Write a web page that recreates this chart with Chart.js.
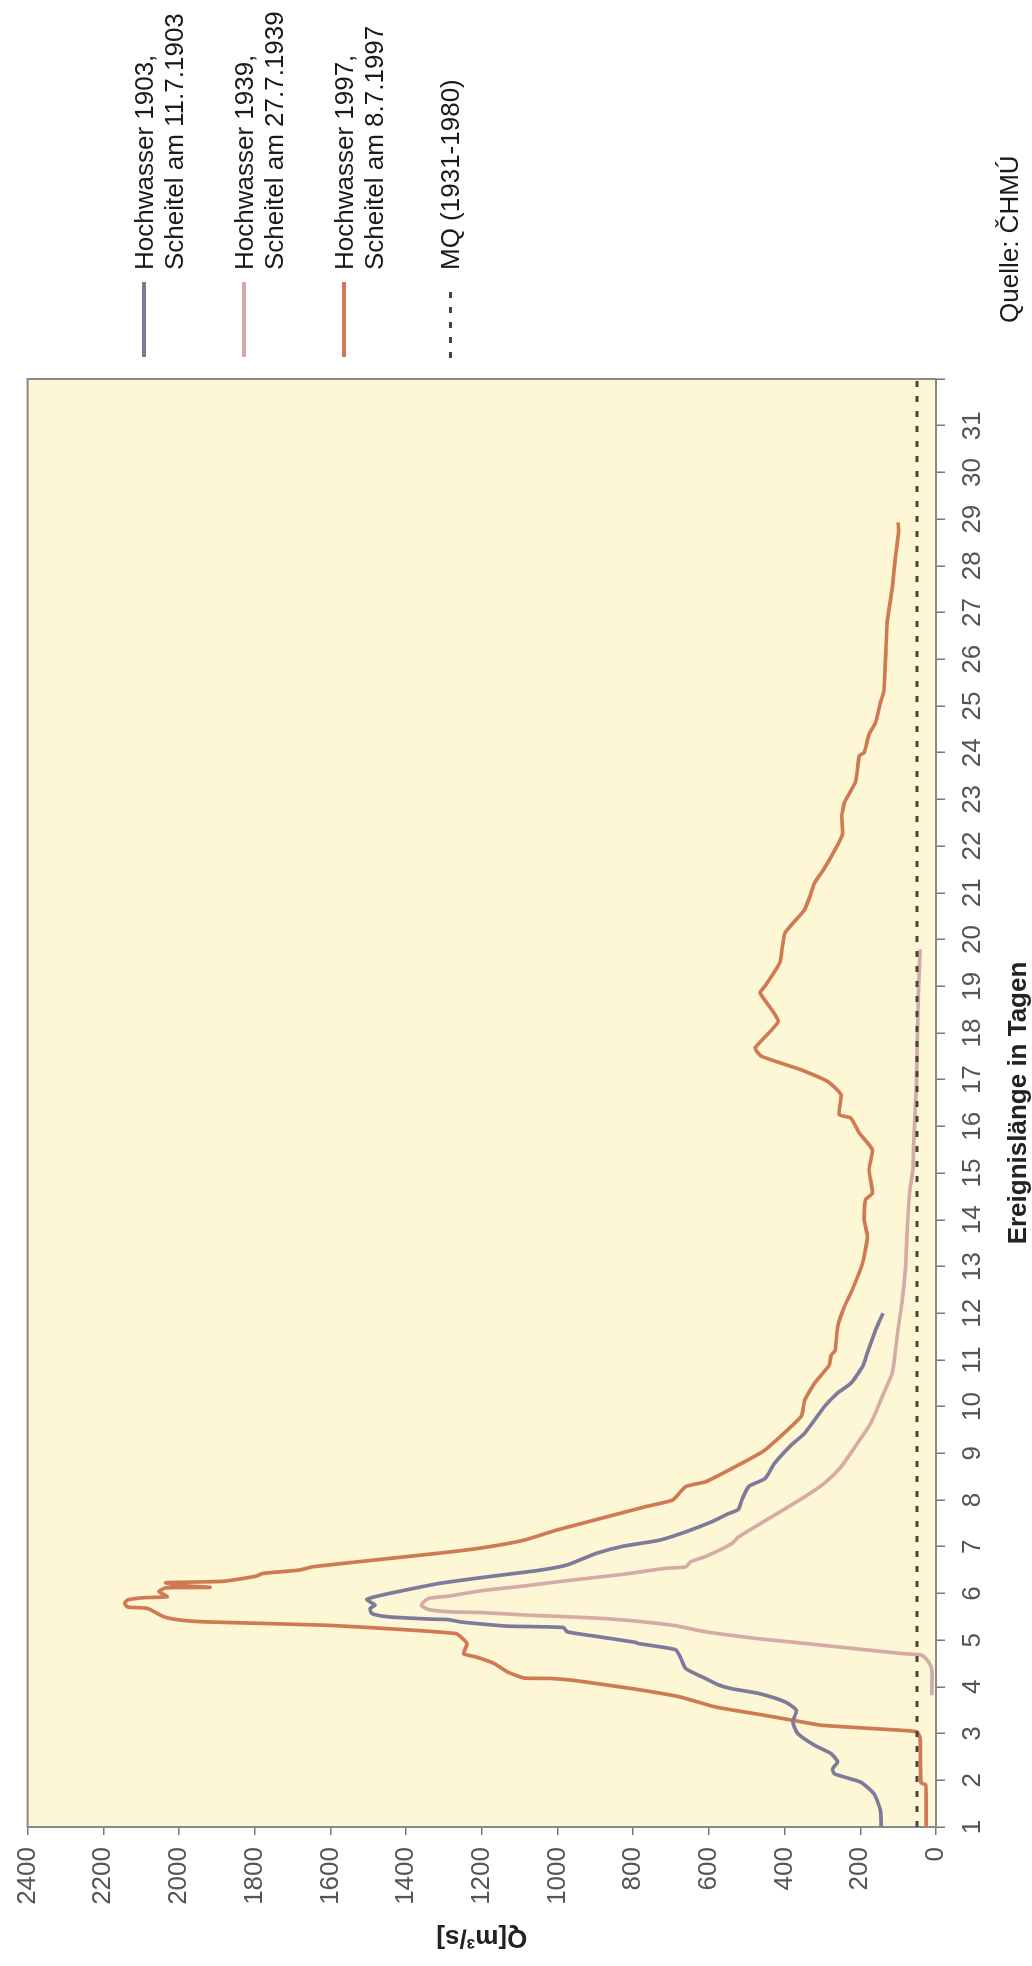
<!DOCTYPE html>
<html>
<head>
<meta charset="utf-8">
<script src="https://cdn.jsdelivr.net/npm/chart.js@4.4.1/dist/chart.umd.min.js"></script>
<style>
  html, body { margin: 0; padding: 0; background: #fff; }
  body { width: 1032px; height: 1966px; overflow: hidden; position: relative; font-family: "Liberation Sans", Arial, sans-serif; }
  #wrap { position: absolute; left: 0; top: 0; width: 1966px; height: 1032px;
          transform-origin: 0 0; transform: translateY(1966px) rotate(-90deg); }
  #wrap canvas { position: absolute; left: 0; top: 0; }
  .lg { position: absolute; font-size: 26px; line-height: 30px; color: #1a1a1a; white-space: pre; }
  .mk { position: absolute; height: 3.5px; }
</style>
</head>
<body>
<div id="wrap">
  <canvas id="Graph" width="1966" height="1032"></canvas>
  <div class="mk" style="left:1609px;top:142px;width:75px;background:#7d7b9c"></div>
  <div class="lg" style="left:1696px;top:129px">Hochwasser 1903,
Scheitel am 11.7.1903</div>
  <div class="mk" style="left:1609px;top:242px;width:75px;background:#d5aca5"></div>
  <div class="lg" style="left:1696px;top:229px">Hochwasser 1939,
Scheitel am 27.7.1939</div>
  <div class="mk" style="left:1609px;top:342px;width:75px;background:#cf7a54"></div>
  <div class="lg" style="left:1696px;top:329px">Hochwasser 1997,
Scheitel am 8.7.1997</div>
  <div class="mk" style="left:1608px;top:449px;width:70px;height:3px;background:repeating-linear-gradient(to right,#444 0 6px,transparent 6px 15px)"></div>
  <div class="lg" style="left:1696px;top:435px">MQ (1931-1980)</div>
  <div class="lg" style="left:1643px;top:994px">Quelle: ČHMÚ</div>
</div>
<script>
// Tage / Abfluss Q in m3/s
days1903 = [1.0, 1.36, 1.71, 1.96, 2.14, 2.25, 2.39, 2.57, 2.75, 3.0, 3.25, 3.5, 3.68, 3.86, 3.96, 4.04, 4.18, 4.39, 4.61, 4.79, 4.86, 4.93, 4.95, 5.07, 5.18, 5.27, 5.3, 5.36, 5.39, 5.44, 5.45, 5.46, 5.5, 5.57, 5.68, 5.75, 5.8, 5.87, 5.93, 6.04, 6.21, 6.33, 6.41, 6.5, 6.61, 6.86, 7.01, 7.14, 7.32, 7.54, 7.71, 7.8, 8.0, 8.29, 8.46, 8.79, 9.18, 9.43, 10.0, 10.29, 10.5, 10.86, 11.21, 11.64, 12.0];
q1903 = [145, 147, 164, 199, 269, 273, 260, 277, 321, 365, 378, 369, 399, 469, 539, 574, 609, 661, 674, 687, 731, 788, 792, 888, 975, 984, 1132, 1219, 1255, 1290, 1330, 1360, 1447, 1491, 1495, 1482, 1491, 1504, 1482, 1421, 1316, 1210, 1132, 1045, 975, 897, 827, 731, 661, 591, 548, 522, 513, 495, 452, 426, 382, 347, 295, 260, 225, 194, 179, 160, 140];

days1939 = [3.82, 4.36, 4.54, 4.68, 4.71, 4.82, 4.96, 5.04, 5.18, 5.32, 5.46, 5.54, 5.59, 5.61, 5.66, 5.75, 5.89, 5.94, 6.06, 6.16, 6.29, 6.41, 6.54, 6.57, 6.68, 6.79, 7.07, 7.21, 7.64, 8.07, 8.36, 8.71, 9.21, 9.64, 10.29, 10.71, 11.21, 11.5, 12.21, 12.93, 13.64, 14.36, 14.71, 15.07, 15.79, 16.86, 17.93, 19.0, 19.79];
q1939 = [11, 11, 20, 38, 85, 216, 382, 478, 609, 696, 870, 1089, 1200, 1290, 1342, 1360, 1342, 1290, 1200, 1089, 958, 827, 713, 661, 648, 609, 539, 522, 434, 347, 295, 251, 208, 173, 138, 116, 107, 103, 90, 81, 77, 72, 68, 61, 58, 52, 49, 46, 42];

days1997 = [1.0, 1.9, 1.95, 2.9, 3.04, 3.11, 3.18, 3.29, 3.39, 3.57, 3.79, 3.96, 4.14, 4.18, 4.19, 4.32, 4.5, 4.64, 4.71, 4.93, 5.14, 5.32, 5.39, 5.43, 5.5, 5.68, 5.71, 5.79, 5.86, 5.91, 5.93, 6.04, 6.12, 6.13, 6.17, 6.23, 6.26, 6.37, 6.43, 6.5, 6.57, 6.71, 6.86, 6.97, 7.14, 7.36, 7.64, 7.86, 8.0, 8.29, 8.39, 8.75, 9.07, 9.79, 10.14, 10.5, 10.89, 11.1, 11.21, 11.71, 12.14, 12.43, 13.07, 13.64, 14.0, 14.43, 14.57, 15.07, 15.5, 15.86, 16.18, 16.25, 16.68, 16.96, 17.21, 17.5, 17.68, 18.25, 18.86, 19.0, 19.5, 20.14, 20.64, 21.0, 21.21, 21.5, 21.89, 22.25, 22.64, 22.93, 23.39, 23.93, 24.0, 24.39, 24.64, 25.07, 25.32, 26.07, 26.79, 27.5, 28.21, 28.71, 28.93];
q1997 = [26, 27, 40, 42, 51, 173, 304, 382, 452, 583, 679, 801, 958, 1019, 1089, 1132, 1167, 1215, 1248, 1239, 1268, 1612, 1926, 1996, 2040, 2083, 2136, 2144, 2136, 2092, 2031, 2053, 2035, 1918, 1996, 2035, 1883, 1796, 1778, 1682, 1647, 1490, 1316, 1205, 1089, 1001, 870, 766, 696, 661, 609, 522, 452, 356, 347, 321, 282, 277, 266, 260, 242, 225, 194, 181, 190, 186, 168, 177, 168, 203, 225, 256, 251, 286, 356, 461, 478, 417, 465, 452, 413, 399, 347, 330, 321, 297, 269, 247, 249, 242, 212, 203, 190, 177, 160, 147, 138, 133, 129, 116, 107, 99, 100];

mqDays = [1, 32];
mqValue = [50, 50];

dayTicksMax = 31;
font = "'Liberation Sans', Arial, sans-serif";

function pts(xs, ys) {
    var out = [];
    for (var i = 0; i < xs.length; i++) {
        out.push({x: xs[i], y: ys[i]});
    }
    return out;
}

var areaPlugin = {
    id: "area",
    beforeDraw: function(c) {
        var a = c.chartArea, g = c.ctx;
        g.save();
        g.fillStyle = "#fdf7d5";
        g.fillRect(a.left, a.top, a.right - a.left, a.bottom - a.top);
        g.strokeStyle = "#8a8a8a";
        g.lineWidth = 2;
        g.strokeRect(a.left, a.top, a.right - a.left, a.bottom - a.top);
        g.restore();
    }
};

var chart = new Chart("Graph", {
    type: "line",
    data: {
      datasets: [
        { data: pts(mqDays, mqValue), borderColor: "#444", borderWidth: 3, borderDash: [6, 9], tension: 0 },
        { data: pts(days1939, q1939), borderColor: "#d5aca5", borderWidth: 3.7, tension: 0.2 },
        { data: pts(days1903, q1903), borderColor: "#7d7b9c", borderWidth: 3.7, tension: 0.2 },
        { data: pts(days1997, q1997), borderColor: "#cf7a54", borderWidth: 3.7, tension: 0.15 }
      ]
    },
    options: {
        responsive: false,
        animation: false,
        devicePixelRatio: 1,
        layout: { padding: { left: 0, right: 379, top: 19, bottom: 0 } },
        elements: { point: { radius: 0 } },
        plugins: { legend: {display: false}, tooltip: {enabled: false} },
        scales: {
          x: {
            type: "linear",
            min: 1,
            max: 32,
            ticks: {
              stepSize: 1,
              autoSkip: false,
              maxRotation: 0,
              padding: 12,
              color: "#555",
              font: { family: font, size: 26 },
              callback: function(v) { return v <= dayTicksMax ? String(v) : ""; }
            },
            grid: { drawOnChartArea: false, tickLength: 9, color: "#777", lineWidth: 1.5 },
            border: { color: "#8a8a8a", width: 2 },
            title: { display: true, text: "Ereignislänge in Tagen", color: "#222",
                     font: { family: font, size: 26, weight: "bold", lineHeight: 1 }, padding: { top: 1, bottom: 0 } },
            afterFit: function(s) { s.height = 96; }
          },
          y: {
            min: 0,
            max: 2400,
            ticks: {
              stepSize: 200,
              padding: 12,
              color: "#555",
              font: { family: font, size: 26 },
              callback: function(v) { return String(v); }
            },
            grid: { drawOnChartArea: false, tickLength: 8, color: "#777", lineWidth: 1.5 },
            border: { color: "#8a8a8a", width: 2 },
            title: { display: true, text: "Q[m³/s]", color: "#222",
                     font: { family: font, size: 26, weight: "bold", lineHeight: 1 }, padding: { top: 16, bottom: 0 } },
            afterFit: function(s) { s.width = 139; }
          }
        }
    },
    plugins: [areaPlugin]
});
</script>
</body>
</html>
